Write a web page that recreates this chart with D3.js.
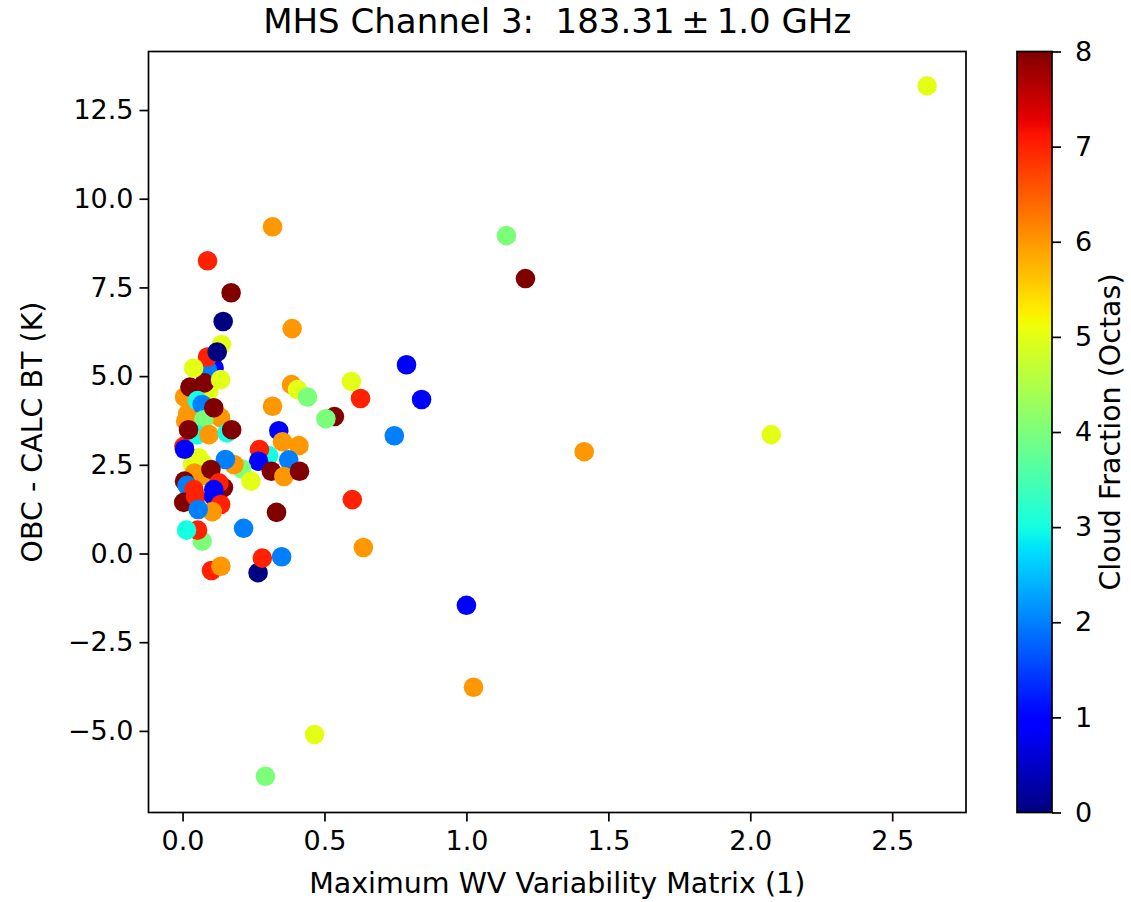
<!DOCTYPE html>
<html>
<head>
<meta charset="utf-8">
<script src="https://cdn.jsdelivr.net/npm/d3@7"></script>
<style>
  body { margin: 0; background: #fff; }
  text { font-family: "DejaVu Sans", sans-serif; fill: #000; }
</style>
</head>
<body>
<svg id="chart" width="1131" height="902"></svg>
<script>
// Maximum WV variability (x), observed minus calculated BT in K (y), cloud fraction in octas (colour)
const variability = [
  0.005, 0.111, 0.087, 0.092, 0.011, 0.046, 0.303, 0.535, 0.384, 0.405,
  0.440, 0.505, 0.339, 0.352, 0.410, 0.271, 0.268, 0.374, 0.313, 0.357,
  0.412, 0.208, 0.181, 0.151, 0.241, 0.035, 0.070, 0.057, 0.042, 0.081,
  0.100, 0.007, 0.007, 0.016, 0.040, 0.144, 0.128, 0.110, 0.004, 0.046,
  0.110, 0.134, 0.105, 0.055, 0.069, 0.053, 0.014, 0.215, 0.331, 0.102,
  0.135, 0.266, 0.281, 0.349, 0.007, 0.026, 0.077, 0.134, 0.137, 0.088,
  0.122, 0.039, 0.018, 0.052, 0.069, 0.134, 0.075, 0.110, 0.052, 0.093,
  0.021, 0.157, 0.173, 0.317, 2.623, 1.141, 1.208, 0.317, 0.088, 0.171,
  0.143, 0.386, 0.789, 0.842, 0.627, 0.595, 0.746, 1.415, 2.074, 1.000,
  1.025, 0.465, 0.292, 0.598, 0.637
];
const obsMinusCalc = [
  3.02, 5.23, 5.18, 4.57, 3.73, 1.47, 2.76, 3.86, 4.76, 4.62,
  4.41, 3.80, 3.46, 3.15, 3.04, 2.93, 2.60, 2.64, 2.32, 2.17,
  2.32, 2.39, 2.51, 2.65, 2.04, 2.51, 2.55, 2.70, 2.27, 2.20,
  2.37, 2.94, 2.04, 1.92, 1.80, 1.86, 1.99, 1.80, 1.44, 1.61,
  1.61, 1.38, 1.18, 1.24, 0.35, 0.66, 0.66, 0.71, 1.16, -0.48,
  -0.36, -0.54, -0.13, -0.09, 4.41, 4.69, 4.81, 4.90, 5.89, 5.54,
  5.68, 5.23, 3.94, 4.31, 4.20, 3.83, 3.77, 4.11, 3.35, 3.35,
  3.49, 3.40, 3.49, 4.15, 13.18, 8.96, 7.75, 9.21, 8.25, 7.35,
  6.54, 6.34, 5.32, 4.34, 4.37, 4.85, 3.32, 2.87, 3.35, -1.46,
  -3.77, -5.10, -6.28, 1.52, 0.17
];
const cloudOctas = [
  7, 1, 2, 5, 6, 6, 3, 8, 6, 5,
  4, 4, 1, 6, 6, 7, 1, 2, 8, 6,
  8, 4, 6, 2, 5, 5, 5, 5, 6, 6,
  8, 1, 8, 2, 7, 8, 7, 1, 8, 7,
  1, 7, 6, 2, 4, 7, 3, 2, 8, 7,
  6, 0, 7, 2, 6, 8, 8, 5, 5, 7,
  0, 5, 6, 3, 2, 6, 4, 8, 3, 6,
  8, 3, 8, 6, 5, 4, 8, 6, 7, 8,
  0, 6, 1, 1, 7, 5, 2, 6, 5, 1,
  6, 5, 4, 7, 6
];

const xTicks = [0, 0.5, 1.0, 1.5, 2.0, 2.5];
const yTicks = [-5.0, -2.5, 0.0, 2.5, 5.0, 7.5, 10.0, 12.5];
const cbarTicks = [0, 1, 2, 3, 4, 5, 6, 7, 8];

const titleText = "MHS Channel 3:  183.31\u2009\u00B1\u20091.0 GHz";
const xLabel = "Maximum WV Variability Matrix (1)";
const yLabel = "OBC - CALC BT (K)";
const cbarLabel = "Cloud Fraction (Octas)";

// Jet colormap built from its segment definition
const jetR = d3.scaleLinear().domain([0, 0.35, 0.66, 0.89, 1]).range([0, 0, 1, 1, 0.5]).clamp(true);
const jetG = d3.scaleLinear().domain([0, 0.125, 0.375, 0.64, 0.91, 1]).range([0, 0, 1, 1, 0, 0]).clamp(true);
const jetB = d3.scaleLinear().domain([0, 0.11, 0.34, 0.65, 1]).range([0.5, 1, 1, 0, 0]).clamp(true);
function jet(t) {
  return d3.rgb(Math.round(jetR(t) * 255), Math.round(jetG(t) * 255), Math.round(jetB(t) * 255)).formatHex();
}

const svg = d3.select("#chart");
const plot = { left: 148.5, right: 966, top: 51.5, bottom: 812.5 };
const cbar = { left: 1017, right: 1052 };

const x = d3.scaleLinear().domain([-0.12, 2.76]).range([plot.left, plot.right]);
const y = d3.scaleLinear().domain([-7.3, 14.15]).range([plot.bottom, plot.top]);
const c = d3.scaleLinear().domain([0, 8]).range([0, 1]);
const cy = d3.scaleLinear().domain([0, 8]).range([plot.bottom, plot.top]);

// Points
const pts = variability.map((v, i) => ({ x: v, y: obsMinusCalc[i], c: cloudOctas[i] }));
svg.append("g")
  .selectAll("circle")
  .data(pts)
  .join("circle")
  .attr("cx", d => x(d.x))
  .attr("cy", d => y(d.y))
  .attr("r", 9.8)
  .attr("fill", d => jet(c(d.c)));

// Frame
svg.append("rect")
  .attr("x", plot.left).attr("y", plot.top)
  .attr("width", plot.right - plot.left).attr("height", plot.bottom - plot.top)
  .attr("fill", "none").attr("stroke", "#000").attr("stroke-width", 1.7);

function styleAxis(g) {
  g.select(".domain").remove();
  g.selectAll(".tick line").attr("stroke", "#000").attr("stroke-width", 1.7);
  g.selectAll(".tick text").style("font-size", "27px").attr("fill", "#000");
}

svg.append("g")
  .attr("transform", `translate(0,${plot.bottom})`)
  .call(d3.axisBottom(x).tickValues(xTicks).tickFormat(d3.format(".1f")).tickSize(9).tickPadding(9))
  .call(styleAxis);

svg.append("g")
  .attr("transform", `translate(${plot.left},0)`)
  .call(d3.axisLeft(y).tickValues(yTicks).tickFormat(d3.format(".1f")).tickSize(9).tickPadding(6))
  .call(styleAxis);

// Axis labels and title
svg.append("text")
  .attr("x", (plot.left + plot.right) / 2).attr("y", 893)
  .attr("text-anchor", "middle").style("font-size", "28.5px")
  .text(xLabel);

svg.append("text")
  .attr("transform", `translate(42,${(plot.top + plot.bottom) / 2}) rotate(-90)`)
  .attr("text-anchor", "middle").style("font-size", "28.5px")
  .text(yLabel);

svg.append("text")
  .attr("x", (plot.left + plot.right) / 2).attr("y", 33)
  .attr("text-anchor", "middle").style("font-size", "34px")
  .style("white-space", "pre")
  .text(titleText);

// Colorbar
const grad = svg.append("defs").append("linearGradient")
  .attr("id", "jetGrad").attr("x1", 0).attr("y1", 1).attr("x2", 0).attr("y2", 0);
grad.selectAll("stop")
  .data(d3.range(0, 1.0001, 0.01))
  .join("stop")
  .attr("offset", d => d)
  .attr("stop-color", d => jet(d));

svg.append("rect")
  .attr("x", cbar.left).attr("y", plot.top)
  .attr("width", cbar.right - cbar.left).attr("height", plot.bottom - plot.top)
  .attr("fill", "url(#jetGrad)")
  .attr("stroke", "#000").attr("stroke-width", 1.7);

svg.append("g")
  .attr("transform", `translate(${cbar.right},0)`)
  .call(d3.axisRight(cy).tickValues(cbarTicks).tickFormat(d3.format("d")).tickSize(9).tickPadding(14))
  .call(styleAxis);

svg.append("text")
  .attr("transform", `translate(1120,${(plot.top + plot.bottom) / 2}) rotate(-90)`)
  .attr("text-anchor", "middle").style("font-size", "28.5px")
  .text(cbarLabel);
</script>
</body>
</html>
